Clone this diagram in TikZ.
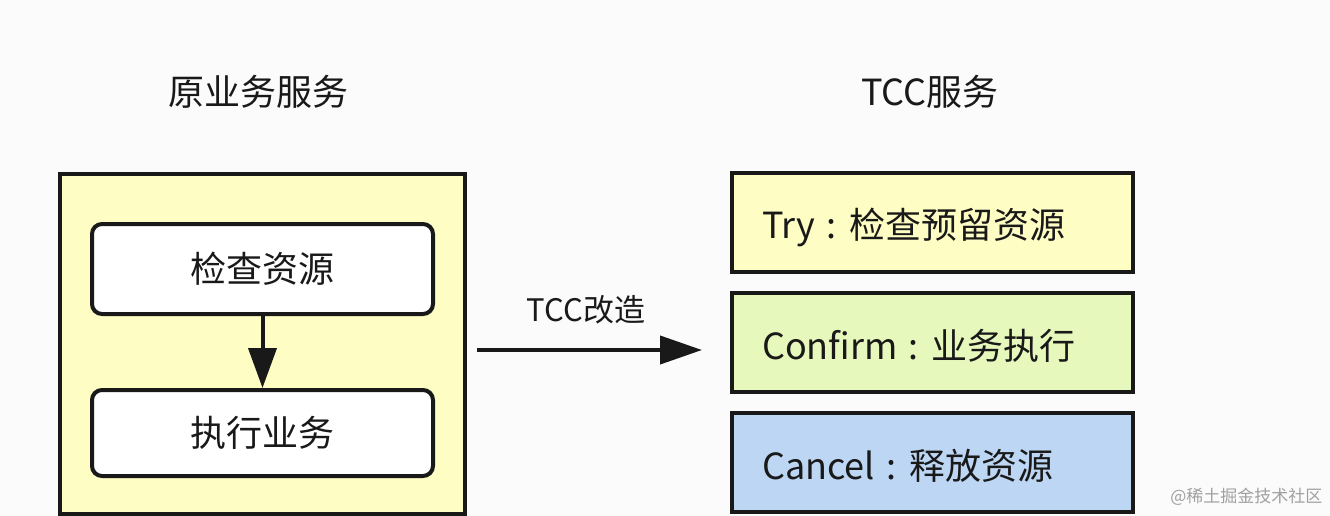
\documentclass[tikz,border=0pt]{standalone}
\usepackage{fontspec}
\setmainfont{Noto Sans CJK SC}
\usetikzlibrary{arrows.meta}
\definecolor{bgc}{HTML}{FBFBFB}
\definecolor{yel}{HTML}{FEFDC4}
\definecolor{grn}{HTML}{E7F8BC}
\definecolor{blu}{HTML}{BDD6F4}
\definecolor{wm}{HTML}{A0A0A0}
\newcommand{\tcccolon}{\hspace{11pt}:\hspace{13pt}}
\tikzset{
  outerbox/.style={draw=black!90, line width=4pt, fill=yel},
  innerbox/.style={draw=black!90, line width=4pt, fill=white, rounded corners=10pt},
  tccbox/.style={draw=black!90, line width=4pt},
  bigtxt/.style={font=\fontsize{36}{40}\selectfont, text=black!90},
  flow/.style={line width=4pt, draw=black!90, -{Triangle[length=40pt,width=28pt]}},
}
\begin{document}
\begin{tikzpicture}[x=1pt,y=-1pt]
\useasboundingbox (0,0) rectangle (1330,516);
\fill[bgc] (0,0) rectangle (1330,516);
% titles
\node[bigtxt] (t1) at (258,92) {原业务服务};
\node[bigtxt] (t2) at (930,92) {TCC服务};
% left
\draw[outerbox] (60,174) rectangle (465,514);
\node[innerbox, minimum width=341pt, minimum height=90pt, bigtxt] (check) at (262.5,269) {检查资源};
\node[innerbox, minimum width=341pt, minimum height=86pt, bigtxt] (exec) at (262.5,433) {执行业务};
\draw[flow] (check.south) -- (exec.north);
% middle arrow
\coordinate (a1) at (477,350);
\coordinate (a2) at (702,350);
\draw[flow, -{Triangle[length=42pt,width=28pt]}] (a1) -- (a2);
\node[font=\fontsize{31}{36}\selectfont, text=black!90] (lab) at (586,310) {TCC改造};
% right
\node[tccbox, fill=yel, minimum width=401pt, minimum height=99pt] (try) at (932.5,222.5) {};
\node[tccbox, fill=grn, minimum width=401pt, minimum height=99pt] (conf) at (932.5,342.5) {};
\node[tccbox, fill=blu, minimum width=401pt, minimum height=99pt] (canc) at (932.5,462.5) {};
\node[bigtxt, anchor=west, inner sep=0pt] (trytx) at (762,227) {Try\tcccolon 检查预留资源};
\node[bigtxt, anchor=west, inner sep=0pt] (conftx) at (762,346) {Confirm\tcccolon 业务执行};
\node[bigtxt, anchor=west, inner sep=0pt] (canctx) at (762,466) {Cancel\tcccolon 释放资源};
% watermark
\node[font=\fontsize{17}{20}\selectfont, text=wm, anchor=east] (wmk) at (1326,497) {@稀土掘金技术社区};
\end{tikzpicture}
\end{document}
